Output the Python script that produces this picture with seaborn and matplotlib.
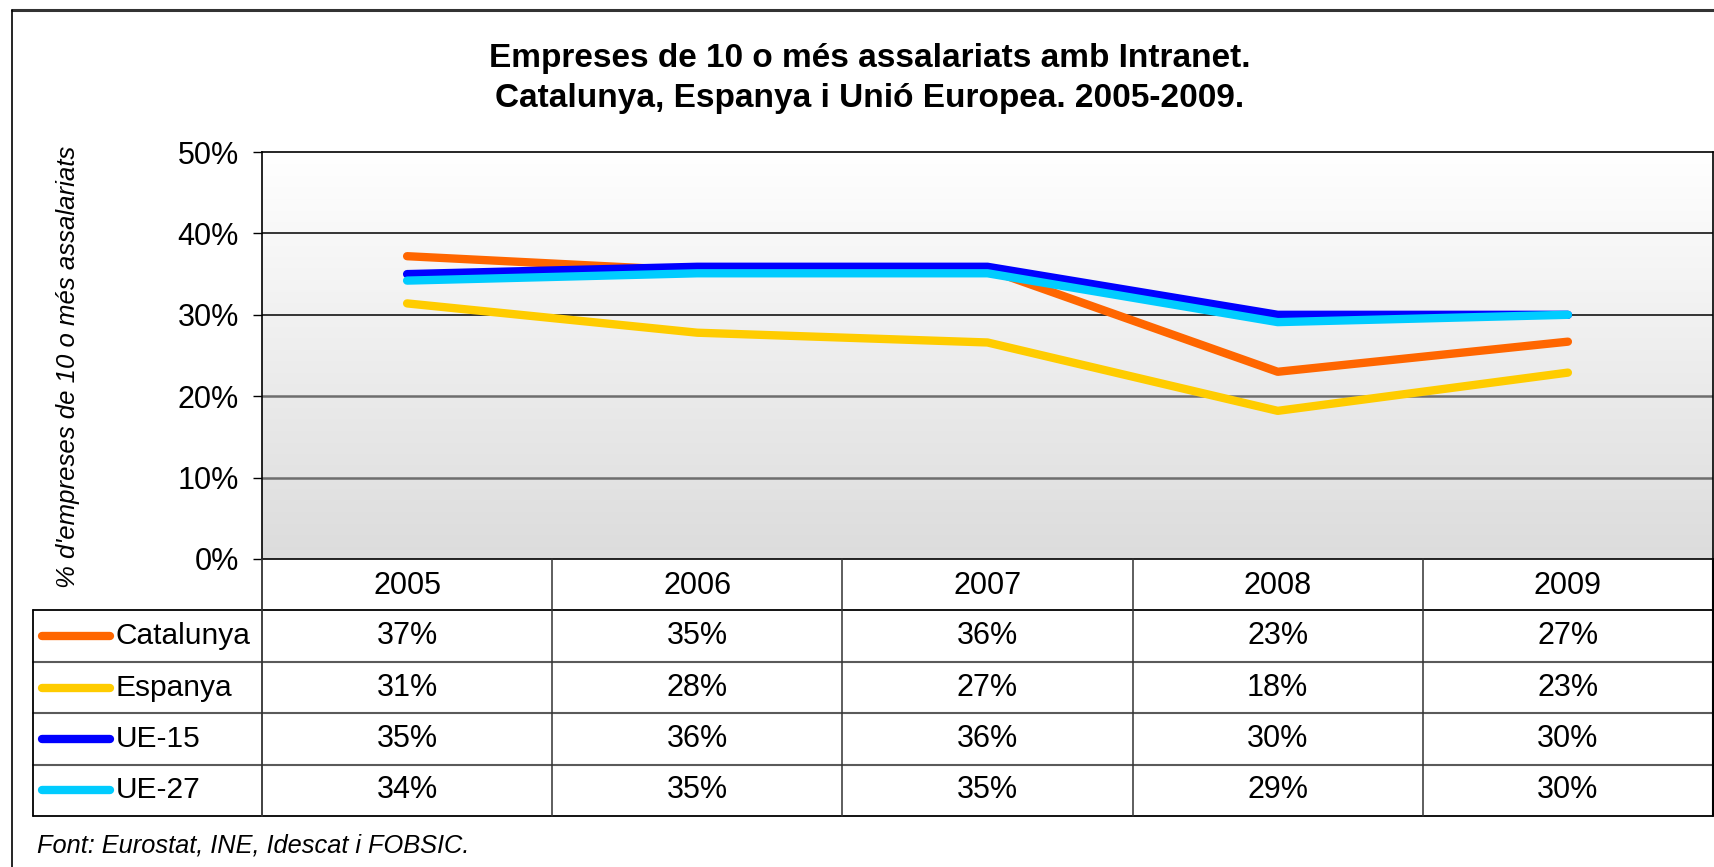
import numpy as np
import pandas as pd
import matplotlib
matplotlib.use("Agg")
import matplotlib.pyplot as plt
import seaborn as sns
from matplotlib.lines import Line2D
from matplotlib.colors import LinearSegmentedColormap

# ---------------- data ----------------
years = ["2005", "2006", "2007", "2008", "2009"]
series = ["Catalunya", "Espanya", "UE-15", "UE-27"]
catalunya = [37.2, 35.4, 35.6, 23.0, 26.7]
espanya = [31.4, 27.8, 26.6, 18.2, 22.9]
ue15 = [35.0, 35.9, 35.9, 30.0, 30.0]
ue27 = [34.2, 35.1, 35.1, 29.1, 30.0]
colors = ["#FF6600", "#FFCC00", "#0000FF", "#00CCFF"]
yticks = [0, 10, 20, 30, 40, 50]
title1 = "Empreses de 10 o més assalariats amb Intranet."
title2 = "Catalunya, Espanya i Unió Europea. 2005-2009."
ylabel = "% d'empreses de 10 o més assalariats"
source = "Font: Eurostat, INE, Idescat i FOBSIC."

values = [catalunya, espanya, ue15, ue27]
df = pd.DataFrame({
    "year": years * len(series),
    "serie": np.repeat(series, len(years)),
    "value": np.concatenate(values),
})

sns.set_theme(style="white")
plt.rcParams["font.family"] = ["Liberation Sans", "DejaVu Sans"]

W, H = 1715, 867
fig = plt.figure(figsize=(W / 100, H / 100), dpi=100)
fig.patch.set_facecolor("white")


def fx(px):
    return px / W


def fy(py):
    return 1 - py / H


L, R, T, B = 262, 1713, 152, 559
TB = 816  # table bottom
LW = 6.0
FS = 22
ax = fig.add_axes([fx(L), fy(B), (R - L) / W, (B - T) / H])

# gradient background
cmap = LinearSegmentedColormap.from_list("bg", ["#DCDCDC", "#FFFFFF"])
ax.imshow(np.linspace(0, 1, 256).reshape(-1, 1), cmap=cmap, origin="lower",
          extent=(-0.5, 4.5, 0, 50), aspect="auto", zorder=0)

for v in [10, 20]:
    ax.axhline(v, color="#6E6E6E", lw=1.8, zorder=1)
for v in [30, 40]:
    ax.axhline(v, color="black", lw=1.1, zorder=1)

sns.lineplot(data=df, x="year", y="value", hue="serie", hue_order=series,
             palette=dict(zip(series, colors)), lw=LW, legend=False, ax=ax,
             sort=False, solid_capstyle="round", zorder=3)

ax.set_xlim(-0.5, 4.5)
ax.set_ylim(0, 50)
ax.set_xticks([])
ax.set_yticks(yticks)
ax.set_yticklabels([f"{v}%" for v in yticks], fontsize=FS, color="black")
ax.tick_params(axis="y", direction="out", length=6.5, width=1, pad=10,
               color="black", left=True)
ax.set_xlabel("")
ax.set_ylabel("")
for s in ax.spines.values():
    s.set_visible(True)
    s.set_color("black")
    s.set_linewidth(1.2)

# ---------------- data table ----------------
tax = fig.add_axes([fx(L), fy(TB), (R - L) / W, (TB - B) / H])
tax.set_xlim(-0.5, 4.5)
tax.set_ylim(5, 0)
tax.axis("off")
colw = (R - L) / 5


def xd(px):
    return -0.5 + (px - L) / colw


legL = xd(33)
for r in range(1, 6):
    c = "black" if r in (1, 5) else "#5A5A5A"
    lw = 1.3 if r in (1, 5) else 1.5
    tax.plot([legL, 4.5], [r, r], color=c, lw=lw, clip_on=False)
tax.plot([legL, legL], [1, 5], color="black", lw=1.3, clip_on=False)
tax.plot([-0.5, -0.5], [0, 5], color="#333333", lw=1.3, clip_on=False)
for xv in [0.5, 1.5, 2.5, 3.5]:
    tax.plot([xv, xv], [0, 5], color="#333333", lw=1.1, clip_on=False)
tax.plot([4.5, 4.5], [0, 5], color="black", lw=1.5, clip_on=False)

for i, yr in enumerate(years):
    tax.text(i, 0.52, yr, ha="center", va="center", fontsize=FS, color="black")
for r, (name, vals, col) in enumerate(zip(series, values, colors)):
    yc = r + 1.5
    for i, v in enumerate(vals):
        tax.text(i, yc, f"{round(v)}%", ha="center", va="center",
                 fontsize=FS, color="black")
    tax.plot([xd(42), xd(110)], [yc, yc], color=col, lw=LW,
             solid_capstyle="round", clip_on=False)
    tax.text(xd(116), yc, name, ha="left", va="center", fontsize=FS - 0.5,
             color="black")

# ---------------- texts ----------------
fig.text(fx(870), fy(58), title1, ha="center", va="center", fontsize=24,
         fontweight="bold", color="black")
fig.text(fx(870), fy(99), title2, ha="center", va="center", fontsize=24,
         fontweight="bold", color="black")
fig.text(fx(68), fy(367), ylabel, rotation=90, ha="center", va="center",
         fontsize=18.5, style="italic", color="black")
fig.text(fx(37), fy(846), source, ha="left", va="center", fontsize=18.3,
         style="italic", color="black")

# outer frame
fig.add_artist(Line2D([fx(12), 1.0], [fy(10), fy(10)], color="#333333",
                      lw=2.2, transform=fig.transFigure))
fig.add_artist(Line2D([fx(12), fx(12)], [fy(10), 0], color="black",
                      lw=1.2, transform=fig.transFigure))

fig.savefig("out.png", dpi=100)
